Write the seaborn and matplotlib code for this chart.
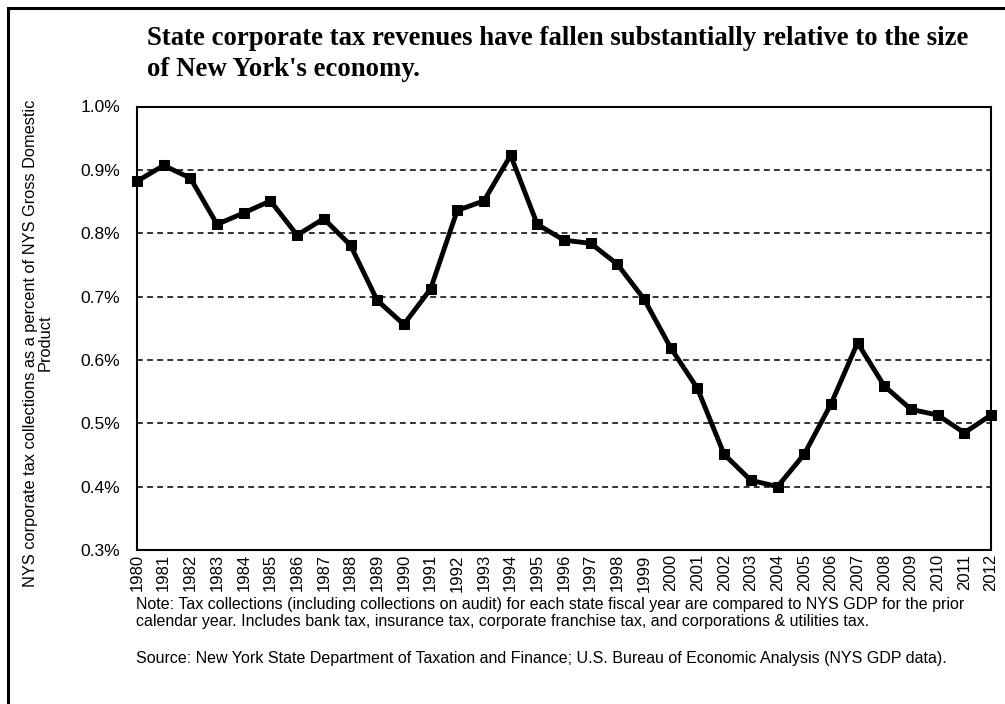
import matplotlib
matplotlib.use("Agg")
import matplotlib.pyplot as plt
import matplotlib.patches as mpatches
from matplotlib.ticker import FuncFormatter
import seaborn as sns
import pandas as pd

years = list(range(1980, 2013))
values = [0.882, 0.907, 0.887, 0.814, 0.832, 0.851, 0.797, 0.823, 0.781, 0.694,
          0.656, 0.712, 0.836, 0.851, 0.923, 0.814, 0.789, 0.784, 0.751, 0.696,
          0.619, 0.555, 0.451, 0.410, 0.400, 0.451, 0.530, 0.627, 0.559, 0.522,
          0.513, 0.485, 0.513]
y_ticks = [0.3, 0.4, 0.5, 0.6, 0.7, 0.8, 0.9, 1.0]

title = "State corporate tax revenues have fallen substantially relative to the size\nof New York's economy."
ylabel = "NYS corporate tax collections as a percent of NYS Gross Domestic\nProduct"
note = ("Note: Tax collections (including collections on audit) for each state fiscal year are compared to NYS GDP for the prior\n"
        "calendar year. Includes bank tax, insurance tax, corporate franchise tax, and corporations & utilities tax.")
source = "Source: New York State Department of Taxation and Finance; U.S. Bureau of Economic Analysis (NYS GDP data)."

df = pd.DataFrame({"year": years, "value": values})

sns.set_theme(style="white")
plt.rcParams['font.family'] = ['Liberation Sans', 'DejaVu Sans']

W, H = 1005, 704
fig = plt.figure(figsize=(W / 100, H / 100), dpi=100)
ax = fig.add_axes([137 / W, 1 - 550 / H, (991 - 137) / W, (550 - 106.5) / H])

sns.lineplot(data=df, x="year", y="value", ax=ax, color="black", linewidth=3.5,
             marker="s", markersize=7.5, markeredgecolor="black", clip_on=False)

ax.set_xlim(1980, 2012)
ax.set_ylim(0.3, 1.0)
ax.set_xticks(years)
ax.set_xticklabels([str(y) for y in years], rotation=90, fontsize=12)
ax.set_yticks(y_ticks)
ax.yaxis.set_major_formatter(FuncFormatter(lambda v, p: f"{v:.1f}%"))
ax.tick_params(axis="y", labelsize=12.5, pad=12, length=0, colors="black")
ax.tick_params(axis="x", pad=3, length=0, colors="black")
for gy in y_ticks[1:-1]:
    ax.axhline(gy, color="#333333", linestyle=(0, (3, 2.2)), linewidth=1.4, zorder=0)
for s in ax.spines.values():
    s.set_color("black")
    s.set_linewidth(1.5)
ax.set_xlabel("")
ax.set_ylabel("")

fig.text(38 / W, 1 - 343 / H, ylabel, rotation=90, ha="center", va="center",
         fontsize=11.8, multialignment="center", linespacing=1.0, color="black")

fig.text(147 / W, 1 - 54 / H, title, ha="left", va="center", fontsize=19.3,
         fontweight="bold", family=["Liberation Serif", "DejaVu Serif"], linespacing=1.27,
         color="black")

fig.text(136 / W, 1 - 613 / H, note, ha="left", va="center", fontsize=11.5,
         linespacing=1.2, color="black")
fig.text(136 / W, 1 - 658 / H, source, ha="left", va="center", fontsize=11.5, color="black")

border = mpatches.Rectangle((8 / W, -0.1), 1.2, 1 - 8 / H + 0.1, transform=fig.transFigure,
                            fill=False, edgecolor="black", linewidth=2.2)
fig.patches.append(border)

fig.savefig("out.png", dpi=100, facecolor="white")
